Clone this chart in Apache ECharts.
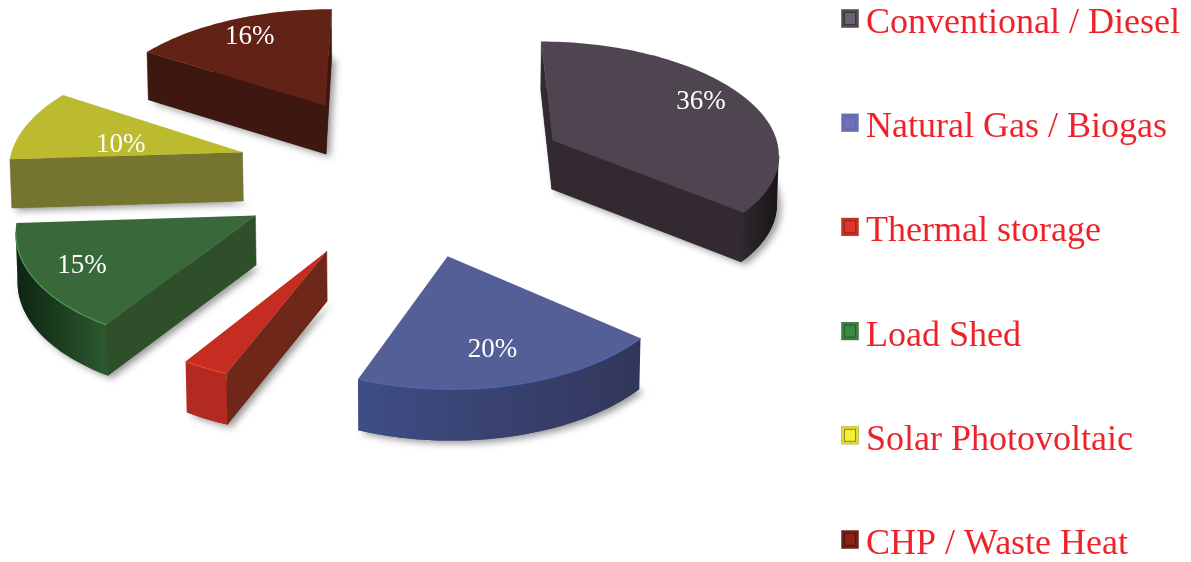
<!DOCTYPE html>
<html>
<head>
<meta charset="utf-8">
<style>html,body{margin:0;padding:0;background:#fff}#chart{width:1191px;height:562px}</style>
<script src="https://cdn.jsdelivr.net/npm/echarts@6/dist/echarts.min.js"></script>
</head>
<body>
<div id="chart"></div>
<script>
// Energy sources and their share of the total, in percent
const categories = ['Conventional / Diesel', 'Natural Gas / Biogas', 'Thermal storage', 'Load Shed', 'Solar Photovoltaic', 'CHP / Waste Heat'];
const shares = [36, 20, 3, 15, 10, 16];
const printedLabels = ['36%', '20%', null, '15%', '10%', '16%'];

// Face colours of each wedge
const topColors = ['#4e4550', '#555f97', '#c62d22', '#39693a', '#bcbb2f', '#622216'];
const radialColors = ['#322a30', '#3d4270', '#6e2719', '#2f4e2a', '#767530', '#3e1711'];
const rimStops = [
  ['#2f292d', '#171316'],
  ['#3f4d86', '#32365a'],
  ['#b32a20', '#b32a20'],
  ['#0d2412', '#2c5a2f'],
  ['#767530', '#767530'],
  ['#3e1711', '#3e1711']
];
const rimHighlights = ['#4e4550', '#4a66b0', '#e8452f', '#4f9b55', '#bcbb2f', '#622216'];
const legendFrames = ['#4f4a52', '#6670b0', '#c9301f', '#3f7f42', '#dcdc30', '#6e2114'];
const legendFills = ['#6a6270', '#6a74b4', '#e0352a', '#3a8a44', '#f3ee3c', '#8a2418'];
const legendLines = ['#3b363e', '#5f69ab', '#8e2a1e', '#245a2a', '#8c8a22', '#4c1710'];

// Per-wedge fine placement: radius multiplier and screen shift of the whole wedge
const radiusScale = [1, 0.955, 0.96, 1, 1.02, 1.03];
const wedgeShift = [[7, 1], [4, 0], [6, 2], [2, 0], [0, -1], [1, 0]];

// Percentage placement: reach along the wedge radius, then a small screen shift
const labelReach = [0.74, 0.77, 0, 0.85, 0.54, 0.8];
const labelShift = [[6, -6], [-6, -3], [0, 0], [13, -4], [-4, 8], [2, 0]];

// Perspective view of the pie plane
const view = { cx: 400, cy: 173, radius: 230, explode: 165, tilt: 0.49, persp: 0.00037, depth: 49, sink: 0.995 };

const total = shares.reduce((a, b) => a + b, 0);

// Maps a point of the pie plane (u to the right, v towards the viewer) onto the screen
function project(u, v, lowered, shift) {
  const s = 1 / (1 - view.persp * v);
  let x = view.cx + u * s;
  let y = view.cy + v * view.tilt * s;
  if (lowered) {
    x = view.cx + (x - view.cx) * view.sink;
    y += view.depth * Math.pow(s, 0.3);
  }
  return [x + shift[0], y + shift[1]];
}

function marker(i) {
  const svg = '<svg xmlns="http://www.w3.org/2000/svg" width="18" height="19">' +
    '<rect x="0.5" y="0.5" width="17" height="18" fill="' + legendFrames[i] + '" stroke="' + legendLines[i] + '" stroke-opacity="0.4"/>' +
    '<rect x="3.5" y="3.5" width="11" height="12" fill="' + legendFills[i] + '" stroke="' + legendLines[i] + '"/></svg>';
  return 'image://data:image/svg+xml;charset=utf-8,' + encodeURIComponent(svg);
}

function renderWedge(params, api) {
  const i = params.seriesIndex;
  const value = api.value(0);
  const before = api.value(1);
  const a0 = before / total * Math.PI * 2;
  const a1 = (before + value) / total * Math.PI * 2;
  const mid = (a0 + a1) / 2;
  const ou = view.explode * Math.sin(mid);
  const ov = -view.explode * Math.cos(mid);
  const radius = view.radius * radiusScale[i];
  const shift = wedgeShift[i];

  const steps = Math.max(6, Math.round((a1 - a0) * 40));
  const plane = [];
  for (let k = 0; k <= steps; k++) {
    const a = a0 + (a1 - a0) * k / steps;
    plane.push([ou + radius * Math.sin(a), ov - radius * Math.cos(a)]);
  }
  const topArc = plane.map(p => project(p[0], p[1], false, shift));
  const lowArc = plane.map(p => project(p[0], p[1], true, shift));
  const apexTop = project(ou, ov, false, shift);
  const apexLow = project(ou, ov, true, shift);
  const outline = [apexTop].concat(topArc);
  const lowOutline = [apexLow].concat(lowArc);

  const children = [{
    type: 'polygon',
    shape: { points: lowOutline },
    style: {
      fill: radialColors[i],
      shadowBlur: 7,
      shadowOffsetX: 4,
      shadowOffsetY: 3,
      shadowColor: 'rgba(0,0,0,0.4)'
    }
  }];

  // Radial walls are drawn when their top edge runs leftwards round the wedge
  const wall = (p, q, pl, ql) => {
    if (q[0] < p[0]) {
      children.push({
        type: 'polygon',
        shape: { points: [p, q, ql, pl] },
        style: { fill: radialColors[i], stroke: radialColors[i], lineWidth: 0.5 }
      });
    }
  };
  wall(apexTop, topArc[0], apexLow, lowArc[0]);
  wall(topArc[steps], apexTop, lowArc[steps], apexLow);

  // Outer rim: only the stretch facing the viewer
  const facing = [];
  for (let k = 0; k < steps; k++) {
    if (topArc[k + 1][0] < topArc[k][0]) facing.push(k);
  }
  if (facing.length) {
    const first = facing[0];
    const last = facing[facing.length - 1] + 1;
    const upper = topArc.slice(first, last + 1);
    const lower = lowArc.slice(first, last + 1).reverse();
    children.push({
      type: 'polygon',
      shape: { points: upper.concat(lower) },
      style: {
        fill: new echarts.graphic.LinearGradient(0, 0, 1, 0, [
          { offset: 0, color: rimStops[i][0] },
          { offset: 1, color: rimStops[i][1] }
        ]),
        stroke: null
      }
    });
    children.push({ type: 'polygon', shape: { points: outline }, style: { fill: topColors[i] } });
    children.push({
      type: 'polyline',
      shape: { points: upper },
      style: { stroke: rimHighlights[i], lineWidth: 1.2, fill: null }
    });
  } else {
    children.push({ type: 'polygon', shape: { points: outline }, style: { fill: topColors[i] } });
  }

  if (printedLabels[i]) {
    const r = radius * labelReach[i];
    const at = project(ou + r * Math.sin(mid), ov - r * Math.cos(mid), false, shift);
    children.push({
      type: 'text',
      style: {
        x: at[0] + labelShift[i][0],
        y: at[1] + labelShift[i][1],
        text: printedLabels[i],
        fill: '#ffffff',
        font: '27px "Liberation Serif", serif',
        align: 'center',
        verticalAlign: 'middle'
      }
    });
  }
  return { type: 'group', children: children };
}

const chart = echarts.init(document.getElementById('chart'), null, { renderer: 'canvas' });
let running = 0;
const series = categories.map((name, i) => {
  const row = [shares[i], running];
  running += shares[i];
  return {
    type: 'custom',
    name: name,
    coordinateSystem: 'none',
    renderItem: renderWedge,
    silent: true,
    animation: false,
    itemStyle: { color: topColors[i] },
    data: [row]
  };
});

chart.setOption({
  animation: false,
  backgroundColor: '#ffffff',
  legend: {
    orient: 'vertical',
    left: 841,
    top: -4.5,
    height: 640,
    padding: 0,
    itemWidth: 18,
    itemHeight: 19,
    itemGap: 58.2,
    selectedMode: false,
    formatter: name => '{entry|' + name + '}',
    textStyle: {
      rich: {
        entry: {
          color: '#ee2229',
          fontFamily: '"Liberation Serif", serif',
          fontSize: 36,
          lineHeight: 36,
          padding: [10, 0, 0, 2]
        }
      }
    },
    data: categories.map((name, i) => ({ name: name, icon: marker(i) }))
  },
  series: series
});
</script>
</body>
</html>
